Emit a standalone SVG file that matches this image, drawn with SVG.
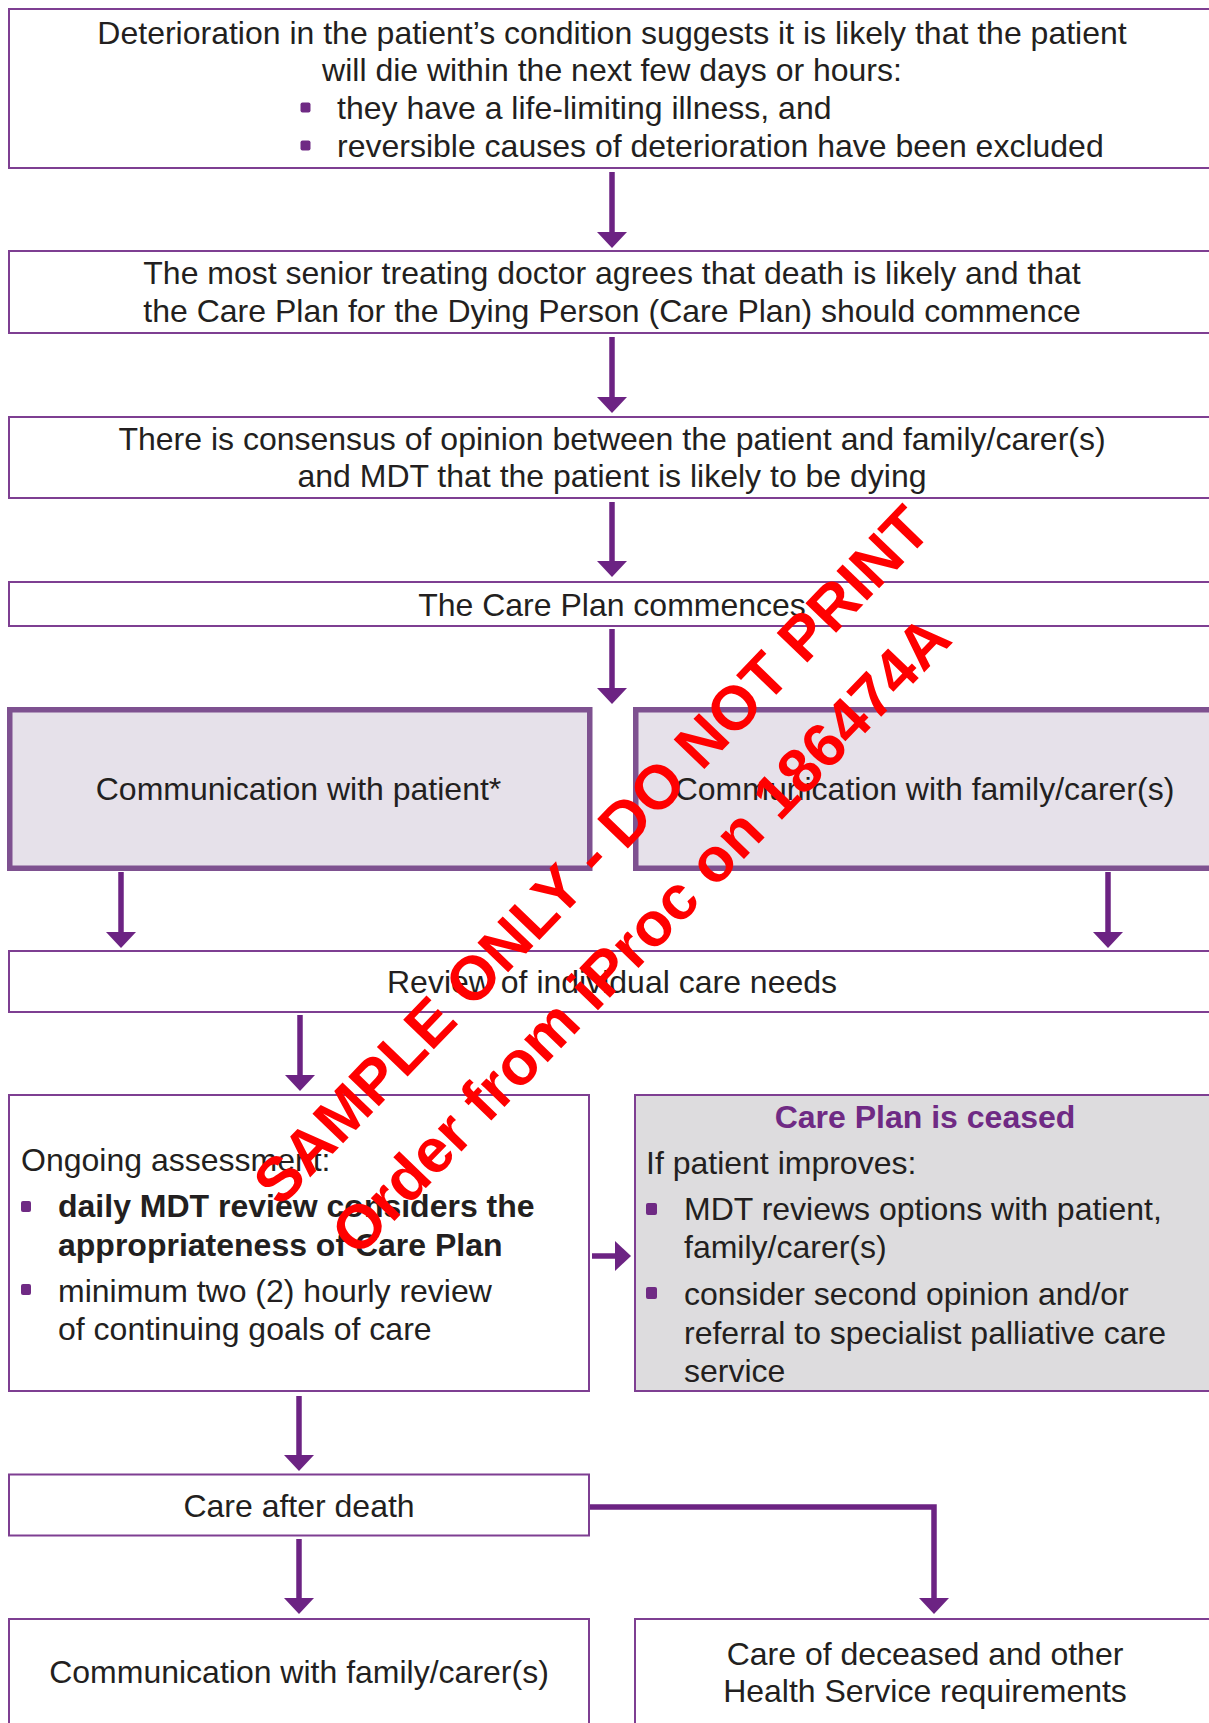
<svg xmlns="http://www.w3.org/2000/svg" width="1209" height="1723" viewBox="0 0 1209 1723">
<defs>
<style>
.box{fill:#ffffff;stroke:#7e3f92;stroke-width:2}
.comm{fill:#e6e1ea;stroke:#7e5190;stroke-width:5.5}
.grey{fill:#dddcde;stroke:#7e3f92;stroke-width:2}
.t{font-family:"Liberation Sans",Arial,sans-serif;font-size:32px;fill:#231f20}
.c{text-anchor:middle}
.b{font-weight:bold}
.h{font-weight:bold;fill:#6f2a84}
.bul{fill:#6f2a84}
.conn{fill:none;stroke:#6c2383;stroke-width:5.5}
.wm{font-family:"Liberation Sans",Arial,sans-serif;font-size:62px;font-weight:bold;fill:#ff0000;text-anchor:middle}
</style>
<marker id="ah" viewBox="0 0 16 30" refX="0" refY="15" markerWidth="16" markerHeight="30" markerUnits="userSpaceOnUse" orient="auto">
<path d="M0,0 L16,15 L0,30 Z" fill="#6c2383"/>
</marker>
</defs>
<rect width="1209" height="1723" fill="#ffffff"/>

<g id="connectors">
<line class="conn" x1="612" y1="172" x2="612" y2="232" marker-end="url(#ah)"/>
<line class="conn" x1="612" y1="337" x2="612" y2="397" marker-end="url(#ah)"/>
<line class="conn" x1="612" y1="502" x2="612" y2="561" marker-end="url(#ah)"/>
<line class="conn" x1="612" y1="629" x2="612" y2="688" marker-end="url(#ah)"/>
<line class="conn" x1="121" y1="872" x2="121" y2="932" marker-end="url(#ah)"/>
<line class="conn" x1="1108" y1="872" x2="1108" y2="932" marker-end="url(#ah)"/>
<line class="conn" x1="300" y1="1015" x2="300" y2="1075" marker-end="url(#ah)"/>
<line class="conn" x1="592" y1="1256" x2="615" y2="1256" marker-end="url(#ah)"/>
<line class="conn" x1="299" y1="1396" x2="299" y2="1455" marker-end="url(#ah)"/>
<line class="conn" x1="299" y1="1539" x2="299" y2="1598" marker-end="url(#ah)"/>
<polyline class="conn" points="589,1507 934,1507 934,1598" marker-end="url(#ah)"/>
</g>

<g id="n1">
<rect class="box" x="9" y="9" width="1206" height="159"/>
<text class="t c" x="612" y="44">Deterioration in the patient’s condition suggests it is likely that the patient</text>
<text class="t c" x="612" y="81">will die within the next few days or hours:</text>
<rect class="bul" x="300.5" y="102.5" width="10" height="10" rx="2"/>
<text class="t" x="337" y="119">they have a life-limiting illness, and</text>
<rect class="bul" x="300.5" y="140.5" width="10" height="10" rx="2"/>
<text class="t" x="337" y="157">reversible causes of deterioration have been excluded</text>
</g>

<g id="n2">
<rect class="box" x="9" y="251" width="1206" height="82"/>
<text class="t c" x="612" y="284">The most senior treating doctor agrees that death is likely and that</text>
<text class="t c" x="612" y="322">the Care Plan for the Dying Person (Care Plan) should commence</text>
</g>

<g id="n3">
<rect class="box" x="9" y="417" width="1206" height="81"/>
<text class="t c" x="612" y="450">There is consensus of opinion between the patient and family/carer(s)</text>
<text class="t c" x="612" y="487">and MDT that the patient is likely to be dying</text>
</g>

<g id="n4">
<rect class="box" x="9" y="582" width="1206" height="44"/>
<text class="t c" x="612" y="616">The Care Plan commences</text>
</g>

<g id="n5">
<rect class="comm" x="9.75" y="709.75" width="580" height="158.5"/>
<text class="t c" x="298.5" y="800">Communication with patient*</text>
</g>

<g id="n6">
<rect class="comm" x="635.75" y="709.75" width="600" height="158.5"/>
<text class="t c" x="924.5" y="800">Communication with family/carer(s)</text>
</g>

<g id="n7">
<rect class="box" x="9" y="951" width="1206" height="61"/>
<text class="t c" x="612" y="993">Review of individual care needs</text>
</g>

<g id="n8">
<rect class="box" x="9" y="1095" width="580" height="296"/>
<text class="t" x="21" y="1171">Ongoing assessment:</text>
<rect class="bul" x="21" y="1201" width="10" height="11" rx="2"/>
<text class="t b" x="58" y="1217">daily MDT review considers the</text>
<text class="t b" x="58" y="1256">appropriateness of Care Plan</text>
<rect class="bul" x="21" y="1284" width="10" height="11" rx="2"/>
<text class="t" x="58" y="1302">minimum two (2) hourly review</text>
<text class="t" x="58" y="1340">of continuing goals of care</text>
</g>

<g id="n9">
<rect class="grey" x="635" y="1095" width="600" height="296"/>
<text class="t h c" x="925" y="1128">Care Plan is ceased</text>
<text class="t" x="646" y="1174">If patient improves:</text>
<rect class="bul" x="646" y="1203" width="11" height="12" rx="2"/>
<text class="t" x="684" y="1220">MDT reviews options with patient,</text>
<text class="t" x="684" y="1258">family/carer(s)</text>
<rect class="bul" x="646" y="1287" width="11" height="12" rx="2"/>
<text class="t" x="684" y="1305">consider second opinion and/or</text>
<text class="t" x="684" y="1344">referral to specialist palliative care</text>
<text class="t" x="684" y="1382">service</text>
</g>

<g id="n10">
<rect class="box" x="9" y="1474.5" width="580" height="61"/>
<text class="t c" x="299" y="1517">Care after death</text>
</g>

<g id="n11">
<rect class="box" x="9" y="1619" width="580" height="200"/>
<text class="t c" x="299" y="1683">Communication with family/carer(s)</text>
</g>

<g id="n12">
<rect class="box" x="635" y="1619" width="600" height="200"/>
<text class="t c" x="925" y="1665">Care of deceased and other</text>
<text class="t c" x="925" y="1702">Health Service requirements</text>
</g>

<g id="watermark">
<text class="wm" transform="translate(607,870) rotate(-46)">SAMPLE ONLY - DO NOT PRINT</text>
<text class="wm" transform="translate(656,950) rotate(-46)">Order from iProc on 186474A</text>
</g>
</svg>
